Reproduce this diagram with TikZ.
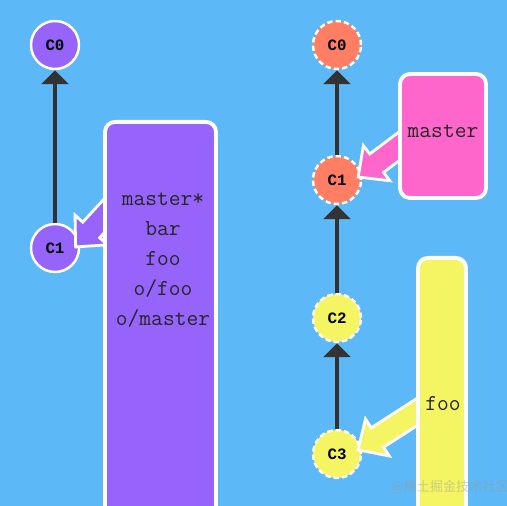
\documentclass[tikz,border=0pt]{standalone}
\usepackage{fontspec}
\newfontfamily\commitfont{Liberation Mono}
\newfontfamily\cjkfont{Noto Sans CJK SC}
\usepackage{xcolor}
\usetikzlibrary{arrows.meta, positioning, calc}

\definecolor{skyback}{RGB}{92,184,247}
\definecolor{violetc}{RGB}{150,100,250}
\definecolor{salmonc}{RGB}{255,126,100}
\definecolor{yellowc}{RGB}{245,245,100}
\definecolor{pinkbr}{RGB}{255,102,204}
\definecolor{darkline}{RGB}{51,51,51}

\pgfdeclarelayer{bg}
\pgfdeclarelayer{ptrs}
\pgfdeclarelayer{top}
\pgfsetlayers{bg,main,ptrs,top}

% fat pointer from a branch box (#1) to a commit (#2)
\newcommand{\fatptr}[3]{%
  \coordinate (fp-h) at ($(#2)!0.46cm!(#1)$);
  \filldraw [ptr, fill=#3] ($(#1)!0.23cm!90:(#2)$) -- ($(fp-h)!0.23cm!90:(#2)$) -- ($(fp-h)!0.44cm!90:(#2)$) -- (#2)
    -- ($(fp-h)!0.44cm!-90:(#2)$) -- ($(fp-h)!0.23cm!-90:(#2)$) -- ($(#1)!0.23cm!-90:(#2)$) -- cycle;
}

\begin{document}
\begin{tikzpicture}[x=0.02cm, y=-0.02cm, >={Triangle[width=0.54cm, length=0.28cm]}]
        \tikzstyle{commit} = [circle, minimum size=0.96cm, inner sep=0pt, draw=white, line width=1.4pt, font=\commitfont\bfseries\fontsize{9}{9}\selectfont]
        \tikzstyle{origin} = [commit, dash pattern=on 3pt off 1.8pt]
        \tikzstyle{brbox} = [rectangle, rounded corners=0.2cm, draw=white, line width=2.2pt, inner sep=0pt]
        \tikzstyle{brtxt} = [font=\ttfamily\fontsize{13}{17}\selectfont, text=black!85, align=center, inner sep=0pt]
        \tikzstyle{parent} = [->, line width=1.8pt, draw=darkline]
        \tikzstyle{ptr} = [draw=white, line width=1.6pt, line join=miter]

        \useasboundingbox (0,0) rectangle (507,506);
        \begin{pgfonlayer}{bg}
            \fill [skyback] (0,0) rectangle (507,506);
        \end{pgfonlayer}
        \clip (0,0) rectangle (507,506);

        % Commits
        \node (lc0) [commit, fill=violetc] at (55,45) {C0};
        \node (lc1) [commit, fill=violetc] at (55,248) {C1};
        \node (rc0) [origin, fill=salmonc] at (337,45) {C0};
        \node (rc1) [origin, fill=salmonc] at (337,180) {C1};
        \node (rc2) [origin, fill=yellowc] at (337,318) {C2};
        \node (rc3) [origin, fill=yellowc] at (337,454) {C3};

        % Parent links
        \draw [parent] (lc1) -- (lc0);
        \draw [parent] (rc1) -- (rc0);
        \draw [parent] (rc2) -- (rc1);
        \draw [parent] (rc3) -- (rc2);

        % Branch boxes
        \begin{pgfonlayer}{top}
            \begin{scope}
            \clip (0,0) rectangle (507,506);
            \node (lbr) [brbox, fill=violetc, minimum width=2.22cm, minimum height=8cm, anchor=north] at (160.5,120) {};
            \node (lbrtxt) [brtxt] at (163,260) {master*\\bar\\foo\\o/foo\\o/master};
            \node (mbr) [brbox, fill=pinkbr, minimum width=1.72cm, minimum height=2.48cm] at (443,136) {};
            \node (mbrtxt) [brtxt] at (443,131) {master};
            \node (fbr) [brbox, fill=yellowc, minimum width=0.96cm, minimum height=6cm, anchor=north] at (442,256) {};
            \node (fbrtxt) [brtxt] at (443,404) {foo};
            \end{scope}
            \node (wmark) [font=\cjkfont\fontsize{7.5}{8}\selectfont, text=black!40, opacity=0.45] at (450,487) {@稀土掘金技术社区};
        \end{pgfonlayer}

        % Branch pointers
        \coordinate (lptr) at ($(lbr.north west)+(12,84)$);
        \coordinate (mptr) at ($(mbr.west)+(12,2)$);
        \coordinate (fptr) at ($(fbr.west)+(12,-3)$);
        \coordinate (lc1tip) at ($(lc1.center)!0.82!(lc1.3)$);
        \coordinate (rc1tip) at ($(rc1.center)!0.85!(rc1.8)$);
        \coordinate (rc3tip) at ($(rc3.center)!0.85!(rc3.11)$);
        \begin{pgfonlayer}{ptrs}
            \fatptr{lptr}{lc1tip}{violetc}
            \fatptr{mptr}{rc1tip}{pinkbr}
            \fatptr{fptr}{rc3tip}{yellowc}
        \end{pgfonlayer}
    \end{tikzpicture}
\end{document}
